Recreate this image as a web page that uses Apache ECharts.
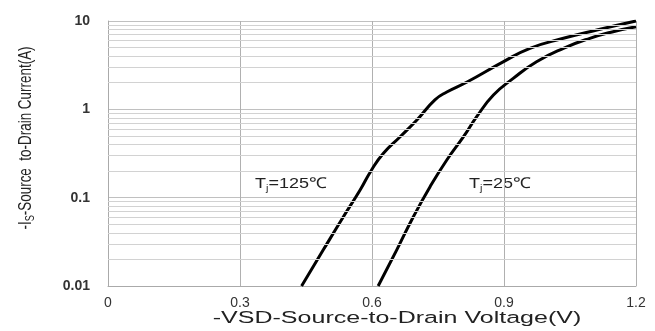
<!DOCTYPE html>
<html>
<head>
<meta charset="utf-8">
<script src="https://cdn.jsdelivr.net/npm/echarts@6/dist/echarts.min.js"></script>
<style>
  html, body { margin: 0; padding: 0; background: #fff; }
  #container { width: 655px; height: 331px; }
</style>
</head>
<body>
<div id="container"></div>
<script>
// values
const vsd125 = [0.44, 0.489, 0.535, 0.573, 0.599, 0.626, 0.664, 0.702, 0.743, 0.77, 0.816, 0.898, 0.959, 1.035, 1.111, 1.2];
const is125 = [0.01, 0.0255, 0.0608, 0.122, 0.206, 0.318, 0.49, 0.757, 1.28, 1.57, 2.04, 3.45, 4.91, 6.37, 7.91, 10];
const vsd25 = [0.614, 0.656, 0.694, 0.732, 0.77, 0.808, 0.838, 0.876, 0.921, 0.974, 1.035, 1.095, 1.148, 1.2];
const is25 = [0.01, 0.0255, 0.0608, 0.133, 0.267, 0.49, 0.826, 1.45, 2.24, 3.46, 4.91, 6.37, 7.57, 8.61];
const decades = [0.01, 0.1, 1];
const minorSteps = [2, 3, 4, 5, 6, 7, 8, 9];

function pairs(xs, ys) {
  let out = [];
  for (let i = 0; i < xs.length; i++) out.push([xs[i], ys[i]]);
  return out;
}

// minor log grid lines (2..9 in each decade)
let minorLines = [];
for (let d = 0; d < decades.length; d++) {
  for (let m = 0; m < minorSteps.length; m++) {
    minorLines.push({ yAxis: +(decades[d] * minorSteps[m]).toPrecision(3) });
  }
}

const font = "'Liberation Sans', Arial, sans-serif";
function tjText(x, text) {
  return {
    type: "text",
    x: x,
    y: 184,
    scaleX: 1.2,
    style: {
      text: text,
      font: "15px " + font,
      fill: "#222",
      align: "center",
      verticalAlign: "middle",
      rich: {
        t: { fontFamily: font, fontSize: 15, fill: "#222" },
        j: { fontFamily: font, fontSize: 9, fill: "#222", verticalAlign: "bottom", padding: [9, 0, 0, 0] }
      }
    }
  };
}

let myChart = echarts.init(document.getElementById("container"));
let option = {
  animation: false,
  backgroundColor: "#fff",
  grid: { left: 108, right: 19, top: 21, bottom: 45 },
  xAxis: {
    type: "value",
    min: 0,
    max: 1.2,
    interval: 0.3,
    axisLine: { lineStyle: { color: "#aaa", width: 1 } },
    axisTick: { show: false },
    axisLabel: {
      margin: 10,
      fontFamily: font,
      fontSize: 14,
      color: "#333",
      formatter: function (v) {
        return v === 0 ? "0" : v.toFixed(1);
      }
    },
    splitLine: { show: true, lineStyle: { color: "#b0b0b0", width: 1 } }
  },
  yAxis: {
    type: "log",
    logBase: 10,
    min: 0.01,
    max: 10,
    axisLine: { show: true, lineStyle: { color: "#aaa", width: 1 } },
    axisTick: { show: false },
    axisLabel: {
      margin: 18,
      fontFamily: font,
      fontSize: 14,
      fontWeight: "bold",
      color: "#333",
      formatter: function (v) {
        if (v >= 1) return String(Math.round(v));
        return String(+v.toPrecision(1));
      }
    },
    splitLine: { show: true, lineStyle: { color: "#c0c0c0", width: 1 } }
  },
  graphic: [
    {
      type: "text",
      x: 26,
      y: 138,
      rotation: Math.PI / 2,
      scaleX: 0.84,
      scaleY: 1.1,
      style: {
        text: "-I{s|S}-Source  to-Drain Current(A)",
        font: "16px " + font,
        fill: "#222",
        align: "center",
        verticalAlign: "middle",
        rich: {
          s: {
            fontSize: 11,
            fontFamily: font,
            fill: "#222",
            verticalAlign: "bottom",
            padding: [8, 0, 0, 0]
          }
        }
      }
    },
    {
      type: "text",
      x: 397,
      y: 318,
      scaleX: 1.39,
      scaleY: 0.92,
      style: {
        text: "-VSD-Source-to-Drain Voltage(V)",
        font: "18px " + font,
        fill: "#222",
        align: "center",
        verticalAlign: "middle"
      }
    },
    tjText(291, "{t|T}{j|j}{t|=125℃}"),
    tjText(500, "{t|T}{j|j}{t|=25℃}")
  ],
  series: [
    {
      name: "grid",
      type: "line",
      data: [],
      silent: true,
      markLine: {
        silent: true,
        symbol: "none",
        label: { show: false },
        lineStyle: { color: "#d2d2d2", width: 1, type: "solid" },
        data: minorLines
      }
    },
    {
      name: "TJ=125C",
      type: "line",
      smooth: 0.5,
      showSymbol: false,
      lineStyle: { color: "#000", width: 3 },
      data: pairs(vsd125, is125)
    },
    {
      name: "TJ=25C",
      type: "line",
      smooth: 0.5,
      showSymbol: false,
      lineStyle: { color: "#000", width: 3 },
      data: pairs(vsd25, is25)
    }
  ]
};
myChart.setOption(option);
window.addEventListener("resize", myChart.resize);
</script>
</body>
</html>
